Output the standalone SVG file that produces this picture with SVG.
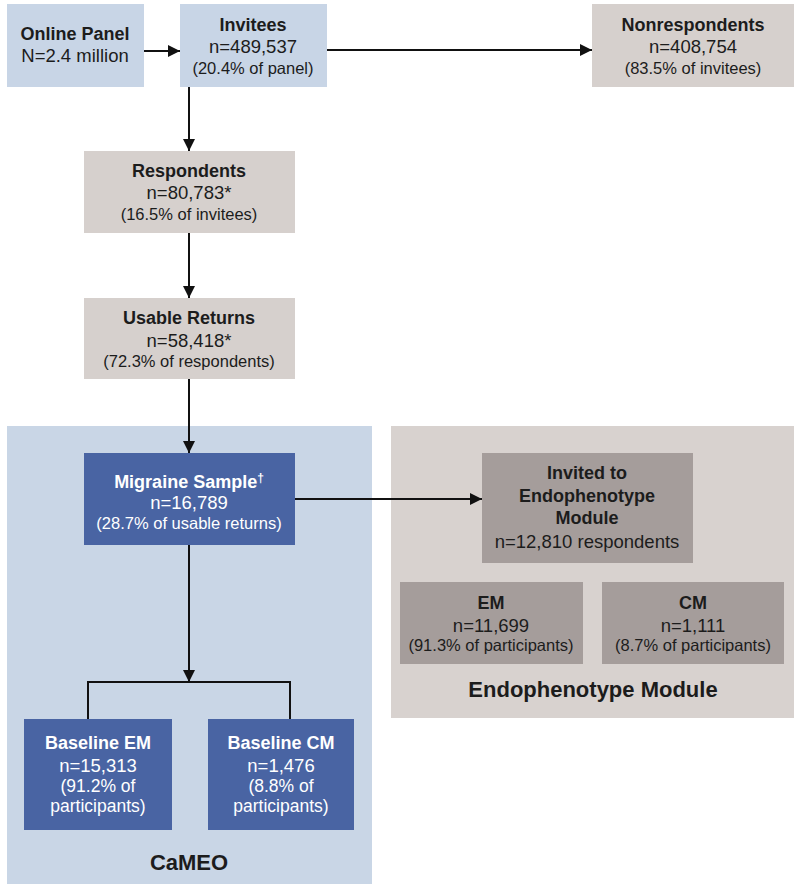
<svg xmlns="http://www.w3.org/2000/svg" width="800" height="889" viewBox="0 0 800 889">
<defs>
<marker id="ah" viewBox="0 0 10 10" refX="10" refY="5" markerWidth="12" markerHeight="12" markerUnits="userSpaceOnUse" orient="auto">
<path d="M0,0 L10,5 L0,10 z" fill="#111"/>
</marker>
<style>
text{font-family:"Liberation Sans",Arial,sans-serif;text-anchor:middle;fill:#1c1c1c}
.b{font-weight:bold;font-size:18px}
.r{font-size:18.5px}
.s{font-size:16.5px}
.m{font-size:17.5px}
.w{fill:#ffffff}
.lb{fill:#c8d5e6}
.gr{fill:#d6d0cd}
.db{fill:#4964a3}
.dg{fill:#a59d9b}
.big{font-weight:bold;font-size:22px}
.c{fill:none;stroke:#111;stroke-width:2}
</style>
</defs>
<rect width="800" height="889" fill="#ffffff"/>
<g id="panel-cameo">
<rect x="7" y="426" width="365" height="458" fill="#c9d6e6"/>
<text class="big" x="189" y="870">CaMEO</text>
</g>
<g id="panel-endo">
<rect x="391" y="426" width="403" height="292" fill="#d8d2cf"/>
<text class="big" x="593" y="697">Endophenotype Module</text>
</g>
<g id="online-panel">
<rect class="lb" x="7" y="4" width="137" height="83"/>
<text class="b" x="75" y="40">Online Panel</text>
<text class="r" x="75" y="62">N=2.4 million</text>
</g>
<g id="invitees">
<rect class="lb" x="180" y="4" width="147" height="83"/>
<text class="b" x="253" y="31">Invitees</text>
<text class="r" x="253" y="53">n=489,537</text>
<text class="s" x="253" y="74">(20.4% of panel)</text>
</g>
<g id="nonrespondents">
<rect class="gr" x="592" y="4" width="202" height="83"/>
<text class="b" x="693" y="31">Nonrespondents</text>
<text class="r" x="693" y="53">n=408,754</text>
<text class="s" x="693" y="74">(83.5% of invitees)</text>
</g>
<g id="respondents">
<rect class="gr" x="84" y="151" width="211" height="82"/>
<text class="b" x="189" y="177">Respondents</text>
<text class="r" x="189" y="199">n=80,783*</text>
<text class="s" x="189" y="220">(16.5% of invitees)</text>
</g>
<g id="usable-returns">
<rect class="gr" x="84" y="298" width="211" height="81"/>
<text class="b" x="189" y="324">Usable Returns</text>
<text class="r" x="189" y="347">n=58,418*</text>
<text class="s" x="189" y="367">(72.3% of respondents)</text>
</g>
<g id="migraine-sample">
<rect class="db" x="84" y="453" width="211" height="92"/>
<text class="b w" x="189" y="488">Migraine Sample<tspan font-size="12" dy="-6">†</tspan></text>
<text class="r w" x="189" y="509">n=16,789</text>
<text class="s w" x="189" y="529">(28.7% of usable returns)</text>
</g>
<g id="invited-endo">
<rect class="dg" x="482" y="453" width="211" height="110"/>
<text class="b" x="587" y="479">Invited to</text>
<text class="b" x="587" y="502">Endophenotype</text>
<text class="b" x="587" y="524">Module</text>
<text class="r" x="587" y="548">n=12,810 respondents</text>
</g>
<g id="em">
<rect class="dg" x="400" y="582" width="183" height="82"/>
<text class="b" x="491" y="609">EM</text>
<text class="r" x="491" y="632">n=11,699</text>
<text class="s" x="491" y="651">(91.3% of participants)</text>
</g>
<g id="cm">
<rect class="dg" x="602" y="582" width="182" height="82"/>
<text class="b" x="693" y="609">CM</text>
<text class="r" x="693" y="632">n=1,111</text>
<text class="s" x="693" y="651">(8.7% of participants)</text>
</g>
<g id="baseline-em">
<rect class="db" x="24" y="719" width="148" height="111"/>
<text class="b w" x="98" y="749">Baseline EM</text>
<text class="r w" x="98" y="772">n=15,313</text>
<text class="m w" x="98" y="792">(91.2% of</text>
<text class="m w" x="98" y="812">participants)</text>
</g>
<g id="baseline-cm">
<rect class="db" x="208" y="719" width="146" height="111"/>
<text class="b w" x="281" y="749">Baseline CM</text>
<text class="r w" x="281" y="772">n=1,476</text>
<text class="m w" x="281" y="792">(8.8% of</text>
<text class="m w" x="281" y="812">participants)</text>
</g>
<g id="connectors">
<line class="c" x1="144" y1="51" x2="180" y2="51" marker-end="url(#ah)"/>
<line class="c" x1="327" y1="50" x2="592" y2="50" marker-end="url(#ah)"/>
<line class="c" x1="189" y1="87" x2="189" y2="151" marker-end="url(#ah)"/>
<line class="c" x1="189" y1="233" x2="189" y2="298" marker-end="url(#ah)"/>
<line class="c" x1="189" y1="379" x2="189" y2="453" marker-end="url(#ah)"/>
<line class="c" x1="295" y1="499" x2="482" y2="499" marker-end="url(#ah)"/>
<line class="c" x1="189" y1="545" x2="189" y2="682" marker-end="url(#ah)"/>
<polyline class="c" points="88,719 88,682 290,682 290,719"/>
</g>
</svg>
